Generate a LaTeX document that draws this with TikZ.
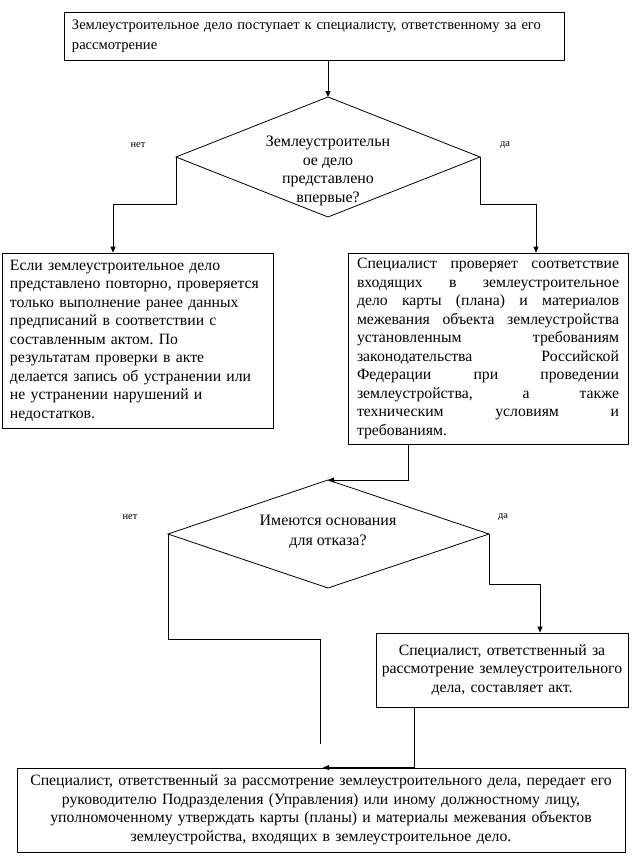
\documentclass[tikz,border=0pt]{standalone}
\usepackage{fontspec}
\setmainfont{Liberation Serif}
\frenchspacing
\usetikzlibrary{arrows.meta}
\tikzset{
  x=1bp, y=-1bp,
  line/.style={line width=0.8bp, black},
  arr/.style={line, -{Triangle[length=6bp,width=5bp]}},
  box/.style={draw, line width=0.8bp, inner ysep=0bp, anchor=center,
    font=\fontsize{15.8}{18.6}\selectfont},
  dtext/.style={align=center, inner sep=0bp, font=\fontsize{16}{18.6}\selectfont},
  yn/.style={inner sep=0bp, font=\fontsize{10.5}{12}\selectfont},
}
\begin{document}
\begin{tikzpicture}
\useasboundingbox (0,0) rectangle (642,865);
% boxes
\node[box, text width=484bp, inner xsep=8bp, minimum height=48bp, align=left,
  font=\fontsize{14.6}{20}\selectfont] (top) at (314,36)
  {Землеустроительное дело поступает к специалисту, ответственному за его\\рассмотрение};
\node[box, text width=255bp, inner xsep=8bp, minimum height=175bp, align=left] (lbox) at (137.5,340.5)
  {Если землеустроительное дело\\представлено повторно, проверяется\\только выполнение ранее данных\\предписаний в соответствии с\\составленным актом. По\\результатам проверки в акте\\делается запись об устранении или\\не устранении нарушений и\\недостатков.};
\node[box, text width=262bp, inner xsep=9bp, minimum height=191bp, align=justify] (rbox) at (488,348.5)
  {Специалист проверяет соответствие\linebreak входящих в землеустроительное\linebreak дело карты (плана) и материалов\linebreak межевания объекта землеустройства\linebreak установленным требованиям\linebreak законодательства Российской\linebreak Федерации при проведении\linebreak землеустройства, а также\linebreak техническим условиям и\linebreak требованиям.};
\node[box, text width=244bp, inner xsep=4bp, minimum height=74bp, align=center] (act) at (502,670)
  {Специалист, ответственный за\\рассмотрение землеустроительного\\дела, составляет акт.};
\node[box, text width=600bp, inner xsep=4bp, minimum height=84bp, align=center] (fin) at (321,810)
  {Специалист, ответственный за рассмотрение землеустроительного дела, передает его\\руководителю Подразделения (Управления) или иному должностному лицу,\\уполномоченному утверждать карты (планы) и материалы межевания объектов\\землеустройства, входящих в землеустроительное дело.};
% diamond 1
\coordinate (d1t) at (328,97);
\coordinate (d1l) at (176,157);
\coordinate (d1r) at (480,157);
\coordinate (d1b) at (328,217);
\draw[line] (d1t) -- (d1r) -- (d1b) -- (d1l) -- cycle;
\node[dtext] (d1) at (328,171) {Землеустроительн\\ое дело\\представлено\\впервые?};
% diamond 2
\coordinate (d2t) at (328,480);
\coordinate (d2l) at (168,534);
\coordinate (d2r) at (489,534);
\coordinate (d2b) at (328,588);
\draw[line] (d2t) -- (d2r) -- (d2b) -- (d2l) -- cycle;
\node[dtext, font=\fontsize{16}{20}\selectfont] (d2) at (328,532) {Имеются основания\\для отказа?};
% labels
\node[yn] (n1) at (138,145) {нет};
\node[yn] (y1) at (505,145) {да};
\node[yn] (n2) at (130,517) {нет};
\node[yn] (y2) at (503,517) {да};
% connectors
\draw[arr] (top.south -| d1t) -- (d1t);
\draw[arr] (d1l) -- (176,204) -| (lbox.north -| 113,0);
\draw[arr] (d1r) -- (480,204) -| (rbox.north -| 536,0);
\draw[arr] (rbox.south -| 408,0) |- (d2t);
\coordinate (nend) at (320,744);
\draw[line] (d2l) -- (168,639) -| (nend);
\draw[arr] (d2r) -- (489,584) -| (act.north -| 540,0);
\draw[arr] (act.south -| 414,0) |- (fin.north -| 323,0);
\end{tikzpicture}
\end{document}
